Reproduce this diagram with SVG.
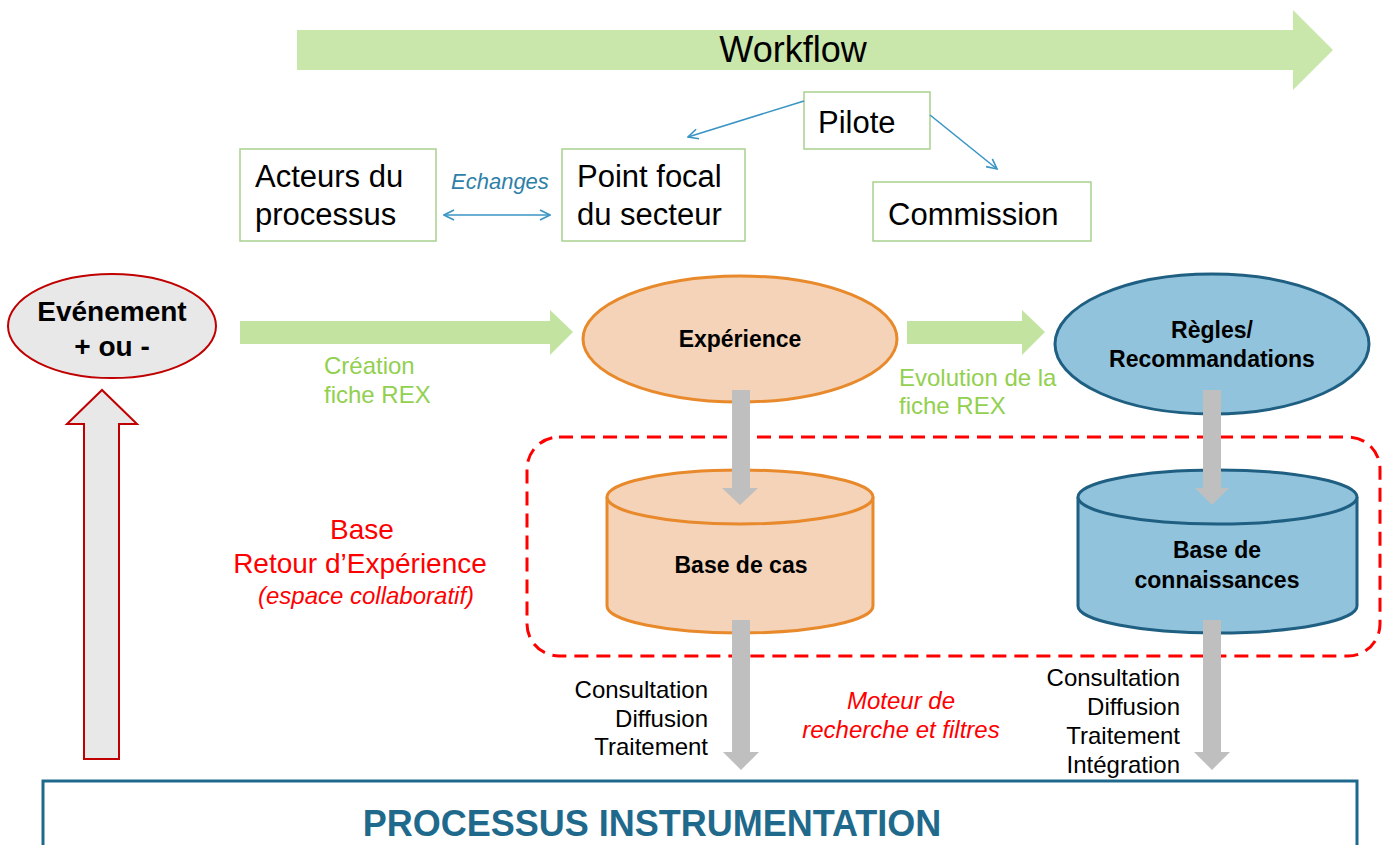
<svg xmlns="http://www.w3.org/2000/svg" width="1387" height="845" viewBox="0 0 1387 845">
  <defs>
    <style>
      text { font-family: "Liberation Sans", Arial, sans-serif; }
      .box { fill: #ffffff; stroke: #a9d18e; stroke-width: 1.5; }
      .lbl { font-size: 31px; fill: #000000; }
      .bold { font-weight: bold; fill: #000000; }
      .green { font-size: 24px; fill: #92d050; }
      .blk { font-size: 24px; fill: #000000; text-anchor: end; }
      .red { fill: #ff0000; }
      .grey { fill: #bfbfbf; }
      .blue-link { stroke: #3a95c4; stroke-width: 1.6; fill: none; }
      .band { fill: #c3e3a0; }
    </style>
    <marker id="open-head" viewBox="0 0 12 12" refX="11" refY="6" markerWidth="12" markerHeight="12" markerUnits="userSpaceOnUse" orient="auto-start-reverse">
      <path d="M1,1 L11,6 L1,11" fill="none" stroke="#3a95c4" stroke-width="1.6"/>
    </marker>
  </defs>

  <!-- top workflow band -->
  <g id="workflow">
    <polygon points="297,30 1293,30 1293,10 1333,50 1293,90 1293,70 297,70" fill="#c9e6ab"/>
    <text x="793" y="62" font-size="36" text-anchor="middle" fill="#000">Workflow</text>
  </g>

  <!-- actor boxes -->
  <g id="pilote">
    <rect class="box" x="804" y="92" width="126" height="57"/>
    <text class="lbl" x="818" y="133">Pilote</text>
  </g>
  <g id="acteurs">
    <rect class="box" x="240" y="149" width="196" height="92"/>
    <text class="lbl" x="255" y="187">Acteurs du</text>
    <text class="lbl" x="255" y="225">processus</text>
  </g>
  <g id="point-focal">
    <rect class="box" x="562" y="149" width="183" height="92"/>
    <text class="lbl" x="577" y="187">Point focal</text>
    <text class="lbl" x="577" y="225">du secteur</text>
  </g>
  <g id="commission">
    <rect class="box" x="873" y="182" width="218" height="59"/>
    <text class="lbl" x="888" y="225">Commission</text>
  </g>

  <!-- event node -->
  <g id="evenement">
    <ellipse cx="112" cy="326" rx="104" ry="52" fill="#e8e8e8" stroke="#c00000" stroke-width="2"/>
    <text class="bold" x="112" y="321" font-size="28" text-anchor="middle">Evénement</text>
    <text class="bold" x="112" y="356" font-size="28" text-anchor="middle">+ ou -</text>
  </g>

  <!-- REX nodes -->
  <g id="experience">
    <ellipse cx="740" cy="339" rx="157" ry="63" fill="#f4d3b8" stroke="#e8892b" stroke-width="3"/>
    <text class="bold" x="740" y="347" font-size="23" text-anchor="middle">Expérience</text>
  </g>
  <g id="regles">
    <ellipse cx="1212" cy="344" rx="157" ry="70" fill="#91c3dc" stroke="#1f5f82" stroke-width="3"/>
    <text class="bold" x="1212" y="338" font-size="23" text-anchor="middle">Règles/</text>
    <text class="bold" x="1212" y="367" font-size="23" text-anchor="middle">Recommandations</text>
  </g>

  <!-- collaborative space -->
  <g id="base-rex">
    <rect x="527" y="437" width="853" height="219" rx="32" ry="32" fill="none" stroke="#ff0000" stroke-width="3" stroke-dasharray="14 8"/>
    <text class="red" x="362" y="539" font-size="28" text-anchor="middle">Base</text>
    <text class="red" x="360" y="573" font-size="28" text-anchor="middle">Retour d’Expérience</text>
    <text class="red" x="366" y="604" font-size="24" font-style="italic" text-anchor="middle">(espace collaboratif)</text>
  </g>

  <g id="base-de-cas">
    <path d="M607,497 L607,606 A133,27 0 0 0 873,606 L873,497" fill="#f4d3b8" stroke="#e8892b" stroke-width="3"/>
    <ellipse cx="740" cy="497" rx="133" ry="27" fill="#f4d3b8" stroke="#e8892b" stroke-width="3"/>
    <text class="bold" x="741" y="573" font-size="23" text-anchor="middle">Base de cas</text>
  </g>
  <g id="base-connaissances">
    <path d="M1078,497 L1078,606 A139.5,27 0 0 0 1357,606 L1357,497" fill="#91c3dc" stroke="#1f5f82" stroke-width="3"/>
    <ellipse cx="1217.5" cy="497" rx="139.5" ry="27" fill="#91c3dc" stroke="#1f5f82" stroke-width="3"/>
    <text class="bold" x="1217" y="558" font-size="23" text-anchor="middle">Base de</text>
    <text class="bold" x="1217" y="588" font-size="23" text-anchor="middle">connaissances</text>
  </g>

  <!-- instrumentation process -->
  <g id="processus">
    <rect x="43" y="781" width="1314" height="80" fill="#ffffff" stroke="#1f6a8c" stroke-width="3"/>
    <text x="652" y="836" font-size="36" font-weight="bold" fill="#1f6a8c" text-anchor="middle">PROCESSUS INSTRUMENTATION</text>
  </g>

  <!-- connectors -->
  <g id="connectors">
    <polygon points="84,759 84,424 67,424 102,390 137,424 119,424 119,759" fill="#e8e8e8" stroke="#c00000" stroke-width="2"/>

    <polygon class="band" points="240,321 550,321 550,310 573,332 550,355 550,344 240,344"/>
    <polygon class="band" points="907,321 1022,321 1022,310 1045,332 1022,355 1022,344 907,344"/>

    <line class="blue-link" x1="444" y1="215" x2="550" y2="215" marker-start="url(#open-head)" marker-end="url(#open-head)"/>
    <line class="blue-link" x1="804" y1="101" x2="688" y2="137" marker-end="url(#open-head)"/>
    <line class="blue-link" x1="930" y1="115" x2="997" y2="169" marker-end="url(#open-head)"/>

    <polygon class="grey" points="732,390 750,390 750,488 758,488 740,505 722,488 732,488"/>
    <polygon class="grey" points="1203,390 1221,390 1221,488 1229,488 1212,505 1195,488 1203,488"/>
    <polygon class="grey" points="732,620 750,620 750,752 759,752 741,770 723,752 732,752"/>
    <polygon class="grey" points="1203,620 1221,620 1221,752 1230,752 1212,770 1194,752 1203,752"/>
  </g>

  <!-- connector labels -->
  <g id="labels">
    <text x="451" y="189" font-size="22" font-style="italic" fill="#2e7fa8">Echanges</text>
    <text class="green" x="324" y="374">Création</text>
    <text class="green" x="324" y="403">fiche REX</text>
    <text class="green" x="899" y="386">Evolution de la</text>
    <text class="green" x="899" y="414">fiche REX</text>

    <text class="blk" x="708" y="698">Consultation</text>
    <text class="blk" x="708" y="727">Diffusion</text>
    <text class="blk" x="708" y="755">Traitement</text>

    <text class="red" x="901" y="709" font-size="24" font-style="italic" text-anchor="middle">Moteur de</text>
    <text class="red" x="901" y="738" font-size="24" font-style="italic" text-anchor="middle">recherche et filtres</text>

    <text class="blk" x="1180" y="686">Consultation</text>
    <text class="blk" x="1180" y="715">Diffusion</text>
    <text class="blk" x="1180" y="744">Traitement</text>
    <text class="blk" x="1180" y="773">Intégration</text>
  </g>
</svg>
